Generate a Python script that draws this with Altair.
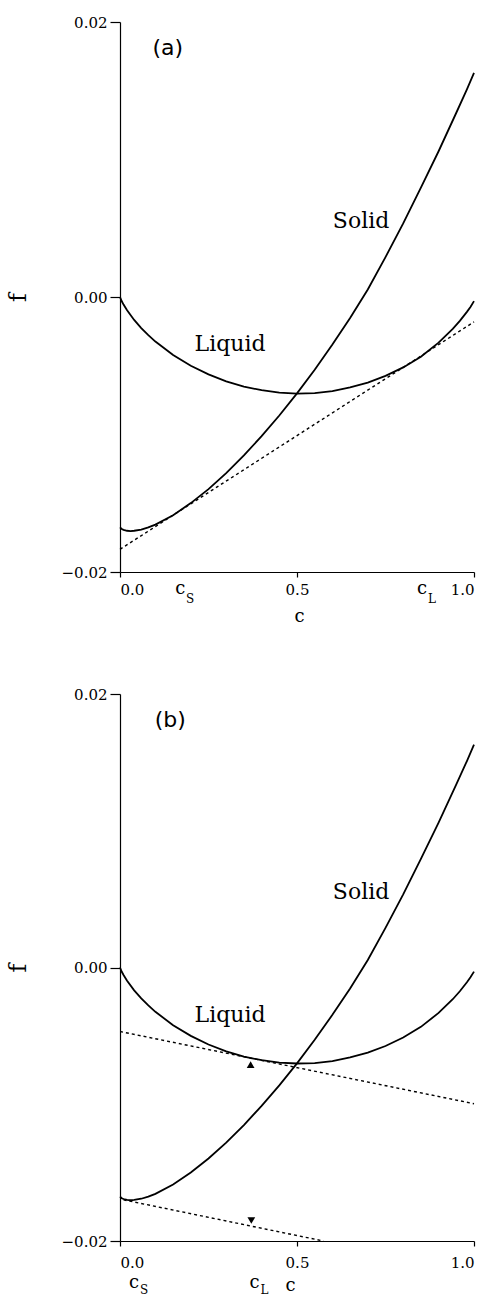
import altair as alt
import pandas as pd

# ---- data ----
liquid_c = [0.0, 0.005, 0.01, 0.02, 0.04, 0.06, 0.08, 0.10, 0.15, 0.20, 0.25, 0.30,
            0.35, 0.40, 0.45, 0.50, 0.55, 0.60, 0.65, 0.70, 0.75, 0.80, 0.85, 0.90,
            0.94, 0.96, 0.98, 0.99, 1.0]
liquid_f = [0.0, -0.00031, -0.00055, -0.00097, -0.00167, -0.00226, -0.00277, -0.00324,
            -0.00422, -0.00500, -0.00563, -0.00613, -0.00651, -0.00678, -0.00695, -0.00702,
            -0.00699, -0.00684, -0.00658, -0.00622, -0.00574, -0.00512, -0.00434, -0.00332,
            -0.00232, -0.00174, -0.00108, -0.00072, -0.00030]

solid_c = [0.0, 0.005, 0.01, 0.02, 0.03, 0.04, 0.06, 0.08, 0.10, 0.15, 0.20, 0.25, 0.30,
           0.35, 0.40, 0.45, 0.50, 0.55, 0.60, 0.65, 0.70, 0.75, 0.80, 0.85, 0.90, 0.95,
           0.98, 1.0]
solid_f = [-0.01675, -0.01687, -0.01693, -0.01700, -0.01702, -0.01700, -0.01691, -0.01676,
           -0.01655, -0.01587, -0.01499, -0.01397, -0.01281, -0.01152, -0.01012, -0.00862,
           -0.00701, -0.00529, -0.00346, -0.00153, 0.00055, 0.00290, 0.00535, 0.00795,
           0.01060, 0.01340, 0.01510, 0.01630]

# dashed tangent lines (endpoints)
tan_a_c = [0.0, 1.0]
tan_a_f = [-0.01835, -0.00181]
tan_b1_c = [0.0, 1.0]
tan_b1_f = [-0.00468, -0.00996]
tan_b2_c = [0.01, 0.575]
tan_b2_f = [-0.01699, -0.02000]

# arrows (triangles) in panel b
arrow_c = [0.369, 0.371]
arrow_f = [-0.00710, -0.01850]
arrow_shape = ["triangle-up", "triangle-down"]

# labels
curve_label_text = ["Solid", "Liquid"]
curve_label_c = [0.681, 0.311]
curve_label_f = [0.00555, -0.00345]

panel_text = ["(a)", "(b)"]
panel_c = [0.135, 0.142]
panel_f = [0.0181, 0.0181]

# composition labels below the axis
comp_a_c = [0.170, 0.853]
comp_a_f = -0.0216
comp_a_sub = ["S", "L"]
comp_b_c = [0.040, 0.380]
comp_b_f = -0.02345
comp_b_sub = ["S", "L"]

x_ticks = [0.0, 0.5, 1.0]
y_ticks = [-0.02, 0.0, 0.02]

W = 354
SERIF = "DejaVu Serif"


def curves_df():
    rows = [{"c": c, "f": f, "s": "Liquid", "o": i} for i, (c, f) in enumerate(zip(liquid_c, liquid_f))]
    rows += [{"c": c, "f": f, "s": "Solid", "o": i} for i, (c, f) in enumerate(zip(solid_c, solid_f))]
    return pd.DataFrame(rows)


def panel(tangents, arrows, label, comp_c, comp_f, comp_sub, height, label_pad, title_x,
          sub_dy):
    xs = alt.Scale(domain=[0, 1], nice=False, zero=False)
    ys = alt.Scale(domain=[-0.02, 0.02], nice=False, zero=False)
    xax = alt.Axis(values=x_ticks, format=".1f", tickSize=5, labelPadding=label_pad,
                   grid=False, labelFont=SERIF, labelFontSize=15, labelColor="black",
                   title="c", titleX=title_x, titleY=49,
                   titleBaseline="alphabetic", titleFont=SERIF, titleFontSize=18,
                   titleFontWeight="normal", titleColor="black")
    yax = alt.Axis(values=y_ticks, format=".2f", tickSize=10, labelPadding=3, grid=False,
                   labelFont=SERIF, labelFontSize=15, labelColor="black",
                   title="f", titleX=-90, titleY=height / 2, titleFont=SERIF,
                   titleFontSize=24, titleFontWeight="normal", titleColor="black")

    base_curves = alt.Chart(curves_df()).mark_line(color="black", strokeWidth=1.8).encode(
        x=alt.X("c:Q", scale=xs, axis=xax),
        y=alt.Y("f:Q", scale=ys, axis=yax),
        detail="s:N",
        order="o:Q",
    )

    layers = [base_curves]
    for tc, tf in tangents:
        df = pd.DataFrame({"c": tc, "f": tf})
        layers.append(alt.Chart(df).mark_line(color="black", strokeWidth=1.4,
                                              strokeDash=[3, 3]).encode(
            x=alt.X("c:Q", scale=xs), y=alt.Y("f:Q", scale=ys)))

    if arrows:
        df = pd.DataFrame({"c": arrow_c, "f": arrow_f, "shape": arrow_shape})
        layers.append(alt.Chart(df).mark_point(filled=True, color="black", size=60,
                                               opacity=1).encode(
            x=alt.X("c:Q", scale=xs), y=alt.Y("f:Q", scale=ys),
            shape=alt.Shape("shape:N", scale=None)))

    lab = pd.DataFrame({"c": curve_label_c, "f": curve_label_f, "t": curve_label_text})
    layers.append(alt.Chart(lab).mark_text(font=SERIF, fontSize=22, color="black").encode(
        x=alt.X("c:Q", scale=xs), y=alt.Y("f:Q", scale=ys), text="t:N"))

    pl = pd.DataFrame({"c": [label[0]], "f": [label[1]], "t": [label[2]]})
    layers.append(alt.Chart(pl).mark_text(font="DejaVu Sans", fontSize=22, color="black").encode(
        x=alt.X("c:Q", scale=xs), y=alt.Y("f:Q", scale=ys), text="t:N"))

    cdf = pd.DataFrame({"c": comp_c, "f": [comp_f] * len(comp_c), "t": ["c"] * len(comp_c),
                        "sub": comp_sub})
    layers.append(alt.Chart(cdf).mark_text(font=SERIF, fontSize=18, color="black",
                                           baseline="alphabetic", clip=False).encode(
        x=alt.X("c:Q", scale=xs), y=alt.Y("f:Q", scale=ys), text="t:N"))
    layers.append(alt.Chart(cdf).mark_text(font=SERIF, fontSize=12, color="black",
                                           baseline="alphabetic", dx=10, dy=sub_dy,
                                           clip=False).encode(
        x=alt.X("c:Q", scale=xs), y=alt.Y("f:Q", scale=ys), text="sub:N"))

    return alt.layer(*layers).properties(width=W, height=height)


top = panel([(tan_a_c, tan_a_f)], False, (panel_c[0], panel_f[0], panel_text[0]),
            comp_a_c, comp_a_f, comp_a_sub, 550, 5, 179, 9)
bottom = panel([(tan_b1_c, tan_b1_f), (tan_b2_c, tan_b2_f)], True,
               (panel_c[1], panel_f[1], panel_text[1]), comp_b_c, comp_b_f, comp_b_sub,
               547, 9, 170, 6)

chart = alt.vconcat(top, bottom, spacing=62).properties(
    padding={"top": 15, "left": 6, "right": 5, "bottom": 5},
    background="white",
).configure_view(stroke=None).configure_axis(
    domainColor="black", domainWidth=1.2, tickColor="black", tickWidth=1.2,
)

chart.save("out.html", embed_options={"renderer": "svg", "actions": False})
